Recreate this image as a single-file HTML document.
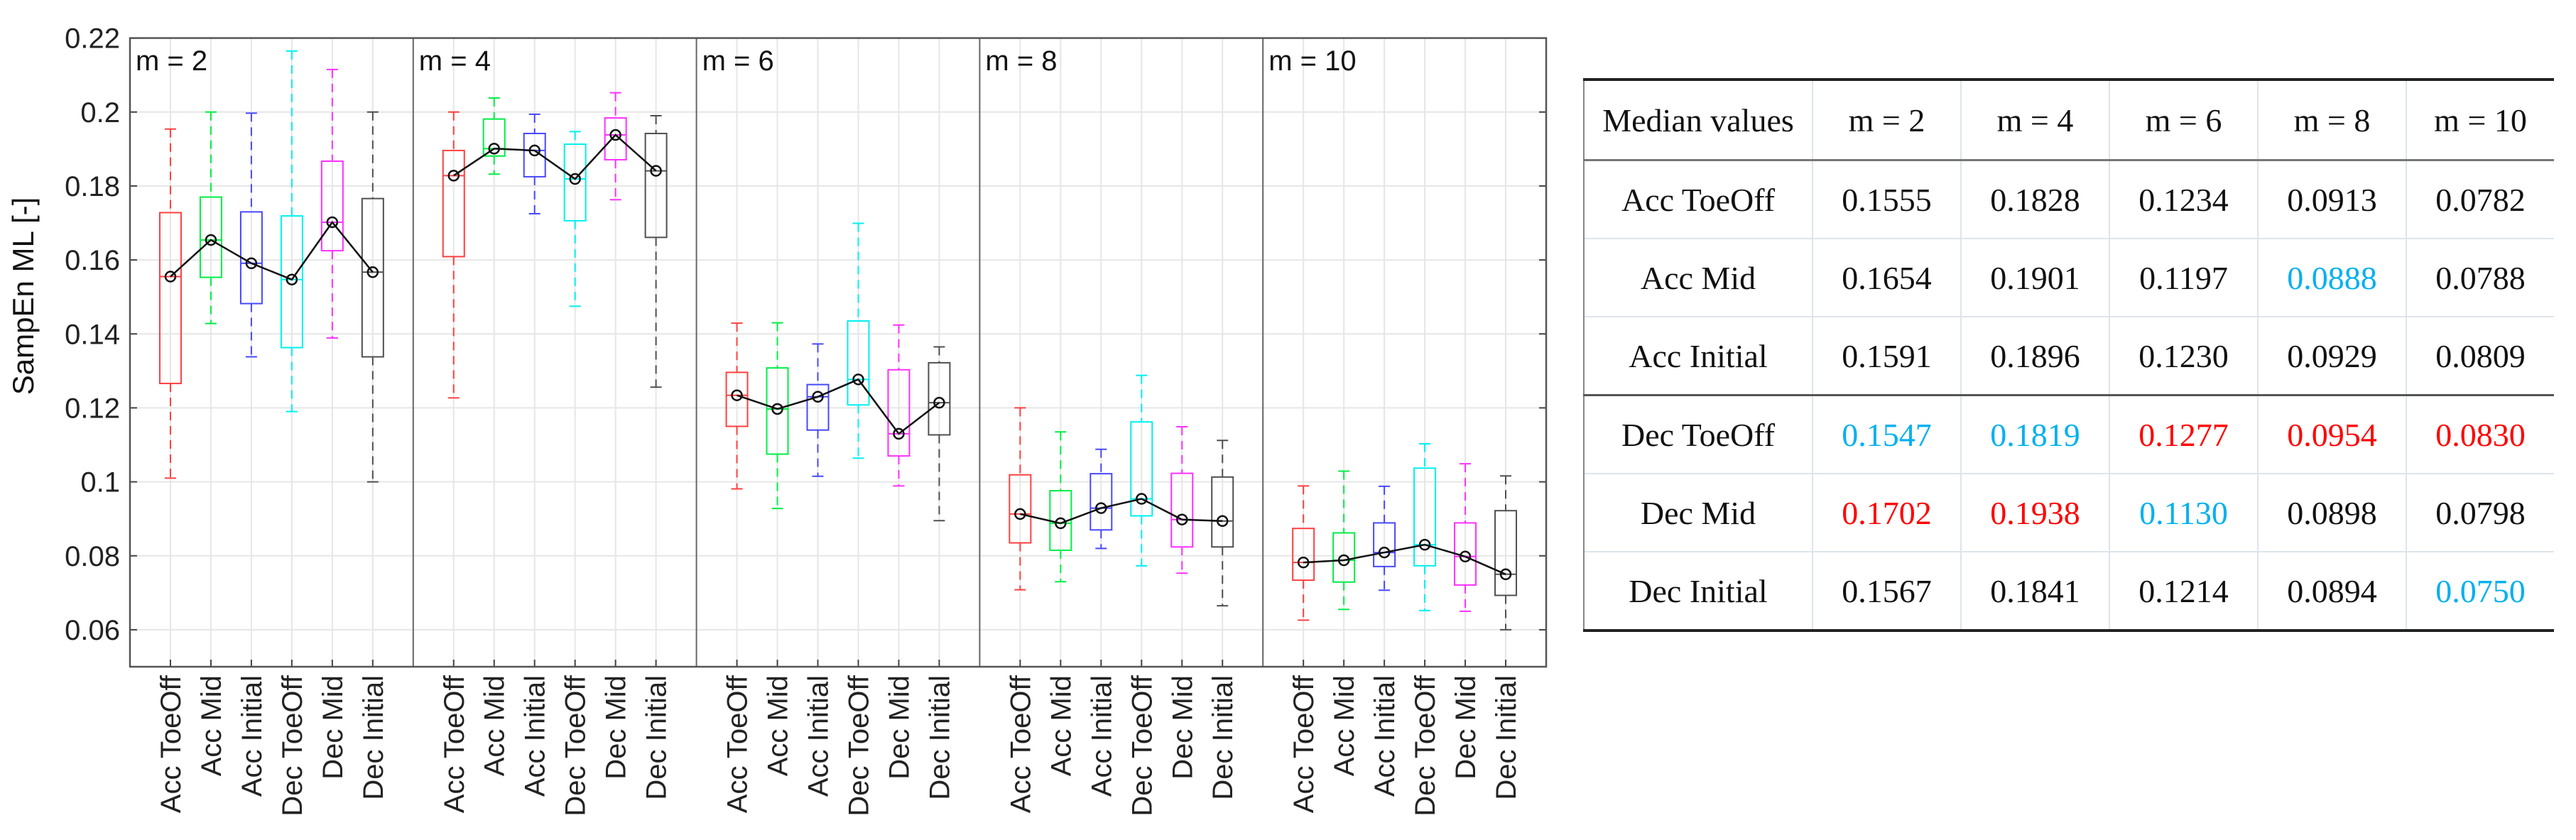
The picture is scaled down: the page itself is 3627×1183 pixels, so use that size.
<!DOCTYPE html>
<html><head><meta charset="utf-8">
<style>
html,body{margin:0;padding:0;background:#fff;}
body{width:3627px;height:1183px;position:relative;overflow:hidden;font-family:"Liberation Sans",sans-serif;}
#chart{position:absolute;left:0;top:0;}
table{position:absolute;left:2229px;top:110px;border-collapse:collapse;font-family:"Liberation Serif",serif;font-size:46px;color:#111;}
td{height:108px;text-align:center;border-left:2px solid #dde4ec;border-top:2px solid #dde4ec;padding:0;}
tr:first-child td{height:110px;}
td:first-child{border-left:2px solid #888;width:320px;}
td.c{width:207px;}
.top td{border-top:4px solid #222;}
.hb td{border-top:3px solid #777;}
.sep td{border-top:3px solid #555;}
.last td{border-bottom:4px solid #222;}
.b{color:#00b0f0;} .r{color:#ff0000;}
</style></head><body>
<svg id="chart" width="2200" height="1183" xmlns="http://www.w3.org/2000/svg"></svg>
<table>
<tr class="top"><td>Median values</td><td class="c">m = 2</td><td class="c">m = 4</td><td class="c">m = 6</td><td class="c">m = 8</td><td class="c">m = 10</td></tr>
<tr class="hb"><td>Acc ToeOff</td><td>0.1555</td><td>0.1828</td><td>0.1234</td><td>0.0913</td><td>0.0782</td></tr>
<tr><td>Acc Mid</td><td>0.1654</td><td>0.1901</td><td>0.1197</td><td class="b">0.0888</td><td>0.0788</td></tr>
<tr><td>Acc Initial</td><td>0.1591</td><td>0.1896</td><td>0.1230</td><td>0.0929</td><td>0.0809</td></tr>
<tr class="sep"><td>Dec ToeOff</td><td class="b">0.1547</td><td class="b">0.1819</td><td class="r">0.1277</td><td class="r">0.0954</td><td class="r">0.0830</td></tr>
<tr><td>Dec Mid</td><td class="r">0.1702</td><td class="r">0.1938</td><td class="b">0.1130</td><td>0.0898</td><td>0.0798</td></tr>
<tr class="last"><td>Dec Initial</td><td>0.1567</td><td>0.1841</td><td>0.1214</td><td>0.0894</td><td class="b">0.0750</td></tr>
</table>
<script>
const categories = ["Acc ToeOff","Acc Mid","Acc Initial","Dec ToeOff","Dec Mid","Dec Initial"];
const panels = ["m = 2","m = 4","m = 6","m = 8","m = 10"];
const yTicks = [0.06,0.08,0.1,0.12,0.14,0.16,0.18,0.2,0.22];
const yTickLabels = ["0.06","0.08","0.1","0.12","0.14","0.16","0.18","0.2","0.22"];
// per panel, per category
const whiskerHigh = [
 [0.1954,0.2000,0.1997,0.2165,0.2115,0.2000],
 [0.2000,0.2038,0.1994,0.1947,0.2052,0.1990],
 [0.1429,0.1430,0.1373,0.1699,0.1424,0.1365],
 [0.1200,0.1135,0.1088,0.1288,0.1149,0.1112],
 [0.0989,0.1029,0.0988,0.1103,0.1049,0.1016]];
const q3 = [
 [0.1728,0.1770,0.1730,0.1719,0.1867,0.1766],
 [0.1896,0.1981,0.1942,0.1913,0.1984,0.1942],
 [0.1296,0.1308,0.1263,0.1435,0.1303,0.1322],
 [0.1019,0.0976,0.1022,0.1162,0.1023,0.1013],
 [0.0874,0.0862,0.0889,0.1037,0.0889,0.0922]];
const medians = [
 [0.1555,0.1654,0.1591,0.1547,0.1702,0.1567],
 [0.1828,0.1901,0.1896,0.1819,0.1938,0.1841],
 [0.1234,0.1197,0.1230,0.1277,0.1130,0.1214],
 [0.0913,0.0888,0.0929,0.0954,0.0898,0.0894],
 [0.0782,0.0788,0.0809,0.0830,0.0798,0.0750]];
const q1 = [
 [0.1266,0.1553,0.1482,0.1363,0.1625,0.1338],
 [0.1609,0.1881,0.1825,0.1706,0.1871,0.1661],
 [0.1150,0.1075,0.1140,0.1208,0.1070,0.1127],
 [0.0835,0.0815,0.0870,0.0908,0.0824,0.0824],
 [0.0734,0.0729,0.0771,0.0773,0.0721,0.0693]];
const whiskerLow = [
 [0.1010,0.1428,0.1338,0.1190,0.1389,0.1000],
 [0.1227,0.1832,0.1725,0.1475,0.1763,0.1256],
 [0.0981,0.0928,0.1015,0.1064,0.0989,0.0895],
 [0.0708,0.0730,0.0820,0.0773,0.0753,0.0665],
 [0.0626,0.0655,0.0707,0.0652,0.0650,0.0600]];
const colors = ["#ff4040","#00ee44","#4848ff","#00f0f0","#ff30ff","#505050"];

const svg = document.getElementById('chart');
const NS = "http://www.w3.org/2000/svg";
const L=183, R=2177, T=53.6, B=939;
const PW=(R-L)/panels.length, step=PW/7;
const y = v => T + (0.22 - v)/0.17*(B-T);
const x = (p,i) => L + p*PW + (i+1)*step;
function mk(tag, attrs, parent){ const e=document.createElementNS(NS,tag); for(const k in attrs) e.setAttribute(k,attrs[k]); (parent||svg).appendChild(e); return e; }

// grid
yTicks.forEach((v,k)=>{
  const g=mk('line',{x1:L,x2:R,y1:y(v),y2:y(v),stroke:'#e6e6e6','stroke-width':2});
  
  
  mk('line',{x1:L,x2:L+10,y1:y(v),y2:y(v),stroke:'#444','stroke-width':2});
  mk('line',{x1:R-10,x2:R,y1:y(v),y2:y(v),stroke:'#444','stroke-width':2});
  const t=mk('text',{x:L-14,y:y(v)+14,'text-anchor':'end','font-size':40,fill:'#222'});
  t.textContent=yTickLabels[k];
  
  
});
panels.forEach((pn,p)=>{
  categories.forEach((c,i)=>{
    const g=mk('line',{x1:x(p,i),x2:x(p,i),y1:T,y2:B,stroke:'#e6e6e6','stroke-width':2});
    
    
    mk('line',{x1:x(p,i),x2:x(p,i),y1:B-10,y2:B,stroke:'#444','stroke-width':2});
    const t=mk('text',{x:0,y:0,'text-anchor':'end','font-size':40,fill:'#222',transform:`translate(${x(p,i)+14},${B+12}) rotate(-90)`});
    t.textContent=c;
    
    
  });
  if(p>0){
    const d=mk('line',{x1:L+p*PW,x2:L+p*PW,y1:T,y2:B,stroke:'#666','stroke-width':2});
    
    
  }
  const pl=mk('text',{x:L+p*PW+8,y:99,'font-size':40,fill:'#111'});
  pl.textContent=pn;
  
  
});
// boxes
panels.forEach((pn,p)=>{
  categories.forEach((c,i)=>{
    const cx=x(p,i), col=colors[i], hw=15;
    const grp=mk('g',{});
    
    
    mk('line',{x1:cx,x2:cx,y1:y(whiskerHigh[p][i]),y2:y(q3[p][i]),stroke:col,'stroke-width':2,'stroke-dasharray':'12 8'},grp);
    mk('line',{x1:cx,x2:cx,y1:y(q1[p][i]),y2:y(whiskerLow[p][i]),stroke:col,'stroke-width':2,'stroke-dasharray':'12 8'},grp);
    mk('line',{x1:cx-8,x2:cx+8,y1:y(whiskerHigh[p][i]),y2:y(whiskerHigh[p][i]),stroke:col,'stroke-width':2},grp);
    mk('line',{x1:cx-8,x2:cx+8,y1:y(whiskerLow[p][i]),y2:y(whiskerLow[p][i]),stroke:col,'stroke-width':2},grp);
    mk('rect',{x:cx-hw,y:y(q3[p][i]),width:2*hw,height:y(q1[p][i])-y(q3[p][i]),fill:'none',stroke:col,'stroke-width':2},grp);
    mk('line',{x1:cx-hw,x2:cx+hw,y1:y(medians[p][i]),y2:y(medians[p][i]),stroke:col,'stroke-width':2},grp);
  });
  const pts=categories.map((c,i)=>x(p,i)+','+y(medians[p][i])).join(' ');
  const ml=mk('polyline',{points:pts,fill:'none',stroke:'#111','stroke-width':2.5});
  
  
  categories.forEach((c,i)=>{
    const m=mk('circle',{cx:x(p,i),cy:y(medians[p][i]),r:7,fill:'none',stroke:'#111','stroke-width':2.5});
    
    
  });
});
const fr=mk('rect',{x:L,y:T,width:R-L,height:B-T,fill:'none',stroke:'#555','stroke-width':2.5});


const yl=mk('text',{x:0,y:0,'text-anchor':'middle','font-size':42,fill:'#111',transform:'translate(47,417) rotate(-90)'});
yl.textContent='SampEn ML [-]';


</script>
</body></html>
